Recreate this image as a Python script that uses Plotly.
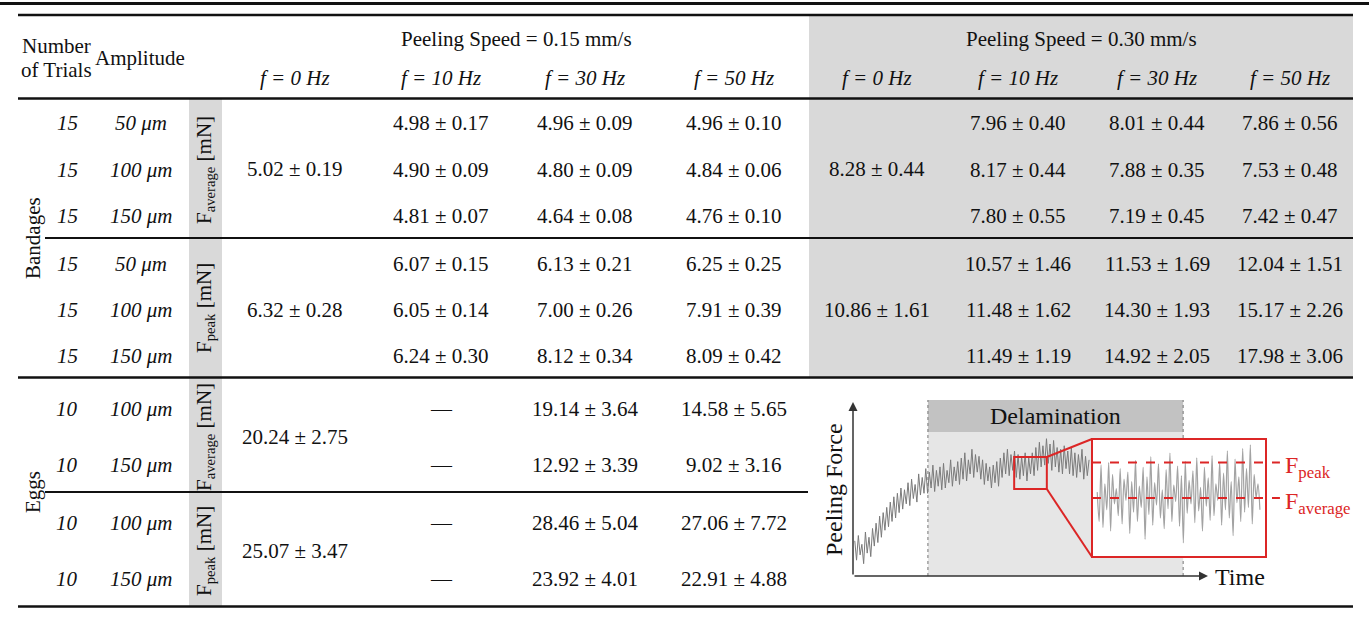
import plotly.graph_objects as go

W, H = 1369, 634
FONT = "Liberation Serif, Times New Roman, serif"
INK = "#111111"
RED = "#dc2626"
GRAY_CELL = "#d9d9d9"

# ---------------- table data ----------------
speed_labels = ["Peeling Speed = 0.15 mm/s", "Peeling Speed = 0.30 mm/s"]
freq_labels = ["f = 0 Hz", "f = 10 Hz", "f = 30 Hz", "f = 50 Hz"]

band_trials = [15, 15, 15]
band_amplitudes = ["50 μm", "100 μm", "150 μm"]
egg_trials = [10, 10]
egg_amplitudes = ["100 μm", "150 μm"]

# Bandages, F_average [mN]  (columns: f = 10, 30, 50 Hz; rows: 50, 100, 150 um)
band_avg_f0_slow = (5.02, 0.19)
band_avg_slow_mean = [[4.98, 4.90, 4.81], [4.96, 4.80, 4.64], [4.96, 4.84, 4.76]]
band_avg_slow_sd = [[0.17, 0.09, 0.07], [0.09, 0.09, 0.08], [0.10, 0.06, 0.10]]
band_avg_f0_fast = (8.28, 0.44)
band_avg_fast_mean = [[7.96, 8.17, 7.80], [8.01, 7.88, 7.19], [7.86, 7.53, 7.42]]
band_avg_fast_sd = [[0.40, 0.44, 0.55], [0.44, 0.35, 0.45], [0.56, 0.48, 0.47]]
# Bandages, F_peak [mN]
band_peak_f0_slow = (6.32, 0.28)
band_peak_slow_mean = [[6.07, 6.05, 6.24], [6.13, 7.00, 8.12], [6.25, 7.91, 8.09]]
band_peak_slow_sd = [[0.15, 0.14, 0.30], [0.21, 0.26, 0.34], [0.25, 0.39, 0.42]]
band_peak_f0_fast = (10.86, 1.61)
band_peak_fast_mean = [[10.57, 11.48, 11.49], [11.53, 14.30, 14.92], [12.04, 15.17, 17.98]]
band_peak_fast_sd = [[1.46, 1.62, 1.19], [1.69, 1.93, 2.05], [1.51, 2.26, 3.06]]
# Eggs (0.15 mm/s only; f = 10 Hz not measured)
egg_avg_f0 = (20.24, 2.75)
egg_avg_mean = [None, [19.14, 12.92], [14.58, 9.02]]
egg_avg_sd = [None, [3.64, 3.39], [5.65, 3.16]]
egg_peak_f0 = (25.07, 3.47)
egg_peak_mean = [None, [28.46, 23.92], [27.06, 22.91]]
egg_peak_sd = [None, [5.04, 4.01], [7.72, 4.88]]

# ---------------- inset schematic data ----------------
# peeling force trace (arbitrary units), sampled every 0.5 time units from t = 0.5
force_main = [
    20, 9, 23, 12, 18, 7, 25, 13, 22, 11,
    27, 17, 30, 19, 34, 22, 36, 26, 39, 28,
    42, 31, 45, 33, 47, 36, 50, 38, 49, 41,
    53, 40, 55, 44, 52, 42, 58, 46, 56, 47,
    61, 47, 59, 50, 63, 48, 60, 51, 62, 49,
    64, 50, 60, 53, 66, 51, 62, 54, 65, 52,
    67, 55, 70, 54, 66, 58, 72, 56, 69, 59,
    68, 55, 66, 52, 64, 54, 62, 50, 63, 53,
    65, 51, 67, 56, 70, 58, 72, 57, 69, 60,
    71, 56, 69, 55, 68, 57, 70, 54, 67, 58,
    70, 57, 73, 60, 76, 62, 74, 63, 78, 64,
    75, 60, 77, 62, 73, 59, 72, 58, 74, 61,
    71, 58, 73, 57, 70, 56, 69, 59, 72, 55, 68, 57, 66,
]
t_main_start, t_main_step = 0.5, 0.5
# magnified window (own scale), sampled every 1.1 units from 3
force_zoom = [
    55, 30, 78, 25, 62, 40, 80, 22, 70, 45,
    58, 35, 75, 28, 66, 48, 72, 20, 64, 38,
    82, 30, 60, 42, 76, 15, 68, 36, 85, 27,
    63, 44, 79, 33, 57, 24, 74, 41, 88, 30,
    61, 47, 77, 26, 69, 12, 81, 37, 65, 45,
    73, 29, 84, 39, 59, 22, 76, 43, 67, 31,
    86, 35, 62, 48, 80, 27, 71, 40, 90, 33,
    64, 18, 83, 46, 68, 30, 92, 38, 75, 42,
    95, 28, 70, 50, 62, 40,
]
t_zoom_start, t_zoom_step = 3.0, 1.1
f_peak_level = 80
f_average_level = 50
delam_start, delam_end = 21.1, 93.0
delam_band_bottom = 81.8
window_t = (45.4, 54.6)
window_f = (49.4, 67.6)

t_main = [t_main_start + t_main_step * i for i in range(len(force_main))]
t_zoom = [t_zoom_start + t_zoom_step * i for i in range(len(force_zoom))]

# ---------------- geometry (pixels) ----------------
col_x = [295, 441, 585, 734, 877, 1018, 1157, 1290]
band_avg_rows = [122.5, 169.5, 215.5]
band_peak_rows = [263.5, 310, 355.5]
egg_avg_rows = [408.5, 465]
egg_peak_rows = [522.5, 578.5]

# inset axes: data 0 / 100 at these pixels
IX0, IX100, IY0, IY100 = 853, 1208, 576, 400
ZX0, ZX100, ZY0, ZY100 = 1092, 1266, 557, 439


def xdom(p0, p100, lo, hi):
    s = (p100 - p0) / 100
    return [(p0 + lo * s) / W, (p0 + hi * s) / W]


def ydom(p0, p100, lo, hi):
    s = (p100 - p0) / 100
    return [1 - (p0 + lo * s) / H, 1 - (p0 + hi * s) / H]


def px_from_inset(t, f):
    return IX0 + t * (IX100 - IX0) / 100, IY0 + f * (IY100 - IY0) / 100


def px_from_zoom(t, f):
    return ZX0 + t * (ZX100 - ZX0) / 100, ZY0 + f * (ZY100 - ZY0) / 100


fig = go.Figure()
fig.add_trace(go.Scatter(x=[], y=[], xaxis="x", yaxis="y", showlegend=False))


def ann(x, y, text, size=21, color=INK, **kw):
    d = dict(x=x, y=y, xref="x", yref="y", text=text, showarrow=False,
             font=dict(family=FONT, size=size, color=color),
             xanchor="center", yanchor="middle")
    d.update(kw)
    fig.add_annotation(**d)


def fmt(m, s):
    return f"{m:.2f} ± {s:.2f}"


def hline(x0, x1, y, w):
    fig.add_shape(type="line", xref="x", yref="y", x0=x0, x1=x1, y0=y, y1=y,
                  line=dict(color=INK, width=w), layer="above")


def rect(x0, x1, y0, y1, color):
    fig.add_shape(type="rect", xref="x", yref="y", x0=x0, x1=x1, y0=y0, y1=y1,
                  fillcolor=color, line=dict(width=0), layer="below")


# gray backgrounds
rect(809, 1353, 16, 377, GRAY_CELL)
rect(189, 222, 99, 606, GRAY_CELL)

# rules
hline(0, W, 3.5, 3)
hline(18, 1353, 15, 2.5)
hline(18, 1353, 98.5, 2.5)
hline(45, 1353, 238, 2)
hline(18, 1353, 377.5, 2.5)
hline(45, 808, 492, 2)
hline(18, 1353, 606.5, 2.5)

# header
ann(56, 46, "Number")
ann(56, 70, "of Trials")
ann(140, 58, "Amplitude")
ann(516, 39, speed_labels[0])
ann(1081, 39, speed_labels[1])
for k in range(8):
    ann(col_x[k], 78, f"<i>{freq_labels[k % 4]}</i>")

# side labels
ann(33, 238, "Bandages", textangle=-90)
ann(33, 492, "Eggs", textangle=-90)
for ys in (band_avg_rows, band_peak_rows):
    for y, n, a in zip(ys, band_trials, band_amplitudes):
        ann(67, y, f"<i>{n}</i>")
        ann(141, y, f"<i>{a}</i>")
for ys in (egg_avg_rows, egg_peak_rows):
    for y, n, a in zip(ys, egg_trials, egg_amplitudes):
        ann(67, y, f"<i>{n}</i>")
        ann(141, y, f"<i>{a}</i>")

ann(205, 170, "F<sub>average</sub> [mN]", textangle=-90)
ann(205, 308, "F<sub>peak</sub> [mN]", textangle=-90)
ann(205, 437, "F<sub>average</sub> [mN]", textangle=-90)
ann(205, 551, "F<sub>peak</sub> [mN]", textangle=-90)


def block(rows, f0, means, sds, cols):
    mid = sum(rows) / len(rows)
    ann(cols[0], mid, fmt(*f0))
    for j in range(3):
        for i, y in enumerate(rows):
            if means[j] is None:
                ann(cols[j + 1], y, "—")
            else:
                ann(cols[j + 1], y, fmt(means[j][i], sds[j][i]))


block(band_avg_rows, band_avg_f0_slow, band_avg_slow_mean, band_avg_slow_sd, col_x[:4])
block(band_avg_rows, band_avg_f0_fast, band_avg_fast_mean, band_avg_fast_sd, col_x[4:])
block(band_peak_rows, band_peak_f0_slow, band_peak_slow_mean, band_peak_slow_sd, col_x[:4])
block(band_peak_rows, band_peak_f0_fast, band_peak_fast_mean, band_peak_fast_sd, col_x[4:])
block(egg_avg_rows, egg_avg_f0, egg_avg_mean, egg_avg_sd, col_x[:4])
block(egg_peak_rows, egg_peak_f0, egg_peak_mean, egg_peak_sd, col_x[:4])

# ---------------- inset ----------------
fig.add_trace(go.Scatter(x=t_main, y=force_main, xaxis="x2", yaxis="y2", mode="lines",
                         line=dict(color="#7a7a7a", width=1), showlegend=False, hoverinfo="skip"))
fig.add_trace(go.Scatter(x=t_zoom, y=force_zoom, xaxis="x3", yaxis="y3", mode="lines",
                         line=dict(color="#a3a3a3", width=1.2, shape="spline", smoothing=0.8),
                         showlegend=False, hoverinfo="skip"))
for lvl in (f_peak_level, f_average_level):
    fig.add_trace(go.Scatter(x=[0, 108], y=[lvl, lvl], xaxis="x3", yaxis="y3", mode="lines",
                             line=dict(color=RED, width=2, dash="dash"),
                             showlegend=False, hoverinfo="skip"))

# delamination region
fig.add_shape(type="rect", xref="x2", yref="y2", x0=delam_start, x1=delam_end, y0=0,
              y1=delam_band_bottom, fillcolor="#e6e6e6", line=dict(width=0), layer="below")
fig.add_shape(type="rect", xref="x2", yref="y2", x0=delam_start, x1=delam_end,
              y0=delam_band_bottom, y1=100, fillcolor="#c2c2c2", line=dict(width=0), layer="below")
for xv in (delam_start, delam_end):
    fig.add_shape(type="line", xref="x2", yref="y2", x0=xv, x1=xv, y0=0, y1=100,
                  line=dict(color="#777777", width=1, dash="dot"), layer="below")
fig.add_annotation(x=(delam_start + delam_end) / 2, y=(delam_band_bottom + 100) / 2,
                   xref="x2", yref="y2", text="Delamination", showarrow=False,
                   font=dict(family=FONT, size=24, color=INK))
# magnified window marker
fig.add_shape(type="rect", xref="x2", yref="y2", x0=window_t[0], x1=window_t[1],
              y0=window_f[0], y1=window_f[1], line=dict(color=RED, width=2), layer="above")
# magnified panel
fig.add_shape(type="rect", xref="x3", yref="y3", x0=0, x1=100, y0=0, y1=100,
              fillcolor="white", line=dict(color=RED, width=2), layer="below")
# connectors
for fw, fz in ((window_f[1], 100), (window_f[0], 0)):
    ax_, ay_ = px_from_inset(window_t[1], fw)
    bx_, by_ = px_from_zoom(0, fz)
    fig.add_shape(type="line", xref="paper", yref="paper", x0=ax_ / W, y0=1 - ay_ / H,
                  x1=bx_ / W, y1=1 - by_ / H, line=dict(color=RED, width=2), layer="above")

# axes arrows
fig.add_annotation(x=100, y=0, ax=0, ay=0, xref="x2", yref="y2", axref="x2", ayref="y2",
                   text="", showarrow=True, arrowhead=2, arrowsize=1.2, arrowwidth=1.5,
                   arrowcolor="#333333", standoff=0)
fig.add_annotation(x=0, y=98.9, ax=0, ay=0, xref="x2", yref="y2", axref="x2", ayref="y2",
                   text="", showarrow=True, arrowhead=2, arrowsize=1.2, arrowwidth=1.5,
                   arrowcolor="#333333", standoff=0)
ann(834, 490, "Peeling Force", size=24, textangle=-90)
ann(1240, 577, "Time", size=24)
ann(1283, 467, "F<sub>peak</sub>", size=24, color=RED, xanchor="left")
ann(1283, 503, "F<sub>average</sub>", size=24, color=RED, xanchor="left")

noax = dict(visible=False, showgrid=False, zeroline=False, fixedrange=True)
fig.update_layout(
    width=W, height=H, margin=dict(l=0, r=0, t=0, b=0),
    paper_bgcolor="white", plot_bgcolor="rgba(0,0,0,0)",
    xaxis=dict(range=[0, W], domain=[0, 1], anchor="y", **noax),
    yaxis=dict(range=[H, 0], domain=[0, 1], anchor="x", **noax),
    xaxis2=dict(range=[-2, 100], domain=xdom(IX0, IX100, -2, 100), anchor="y2", **noax),
    yaxis2=dict(range=[-2, 100], domain=ydom(IY0, IY100, -2, 100), anchor="x2", **noax),
    xaxis3=dict(range=[-2, 110], domain=xdom(ZX0, ZX100, -2, 110), anchor="y3", **noax),
    yaxis3=dict(range=[-3, 103], domain=ydom(ZY0, ZY100, -3, 103), anchor="x3", **noax),
    showlegend=False,
)

fig.write_html("out.html", config={"displayModeBar": False},
               post_script="document.body.style.margin='0';document.body.style.overflow='hidden';")
